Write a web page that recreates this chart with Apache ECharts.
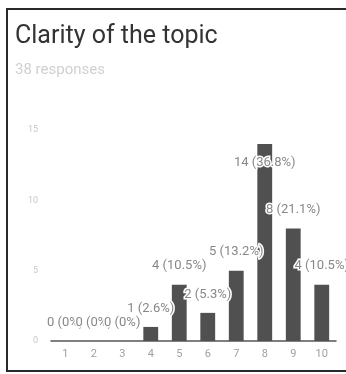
<!DOCTYPE html>
<html>
<head>
<meta charset="utf-8">
<script src="https://cdn.jsdelivr.net/npm/echarts@6/dist/echarts.min.js"></script>
<style>
  html, body { margin: 0; padding: 0; background: #fff; overflow: hidden; }
  #wrap { position: relative; width: 346px; height: 374px; overflow: hidden; }
  #chart { position: absolute; left: 0; top: 0; width: 346px; height: 374px; }
  #frame { position: absolute; left: 6px; top: 8px; width: 345px; height: 360px;
           border-left: 2px solid #2a2a2a; border-top: 2px solid #2a2a2a; border-bottom: 2px solid #2a2a2a;
           border-right: none; box-sizing: content-box; pointer-events: none; }
</style>
</head>
<body>
<div id="wrap">
  <div id="chart"></div>
  <div id="frame"></div>
</div>
<script>
const titleText = "Clarity of the topic";
const subtitleText = "38 responses";
const categories = ["1", "2", "3", "4", "5", "6", "7", "8", "9", "10"];
const counts = [0, 0, 0, 1, 4, 2, 5, 14, 8, 4];
const percents = ["0%", "0%", "0%", "2.6%", "10.5%", "5.3%", "13.2%", "36.8%", "21.1%", "10.5%"];
const yTicks = [0, 5, 10, 15];

const chart = echarts.init(document.getElementById('chart'), null, { renderer: 'canvas' });
const maxY = yTicks[yTicks.length - 1];

const seriesData = counts.map((v, i) => {
  const item = { value: v, pct: percents[i] };
  if (v >= maxY - 1) {
    item.label = { position: 'insideTop', distance: 12 };
  }
  return item;
});

chart.setOption({
  backgroundColor: '#fff',
  animation: false,
  textStyle: { fontFamily: 'Roboto, sans-serif' },
  title: {
    text: titleText,
    subtext: subtitleText,
    left: 10,
    top: 19,
    itemGap: 14,
    textStyle: { fontSize: 25, fontWeight: 'normal', color: '#333', fontFamily: 'Roboto' },
    subtextStyle: { fontSize: 15, color: '#d0d0d0', fontFamily: 'Roboto' }
  },
  grid: { left: 51, right: 10, top: 130, bottom: 33, containLabel: false },
  xAxis: {
    type: 'category',
    data: categories,
    axisLine: { show: true, lineStyle: { color: '#555', width: 1.5 } },
    axisTick: { show: false },
    axisLabel: { color: '#a0a0a0', fontSize: 11, margin: 8 }
  },
  yAxis: {
    type: 'value',
    min: 0,
    max: maxY,
    interval: 5,
    axisLine: { show: false },
    axisTick: { show: false },
    splitLine: { show: false },
    axisLabel: { color: '#c8c8c8', fontSize: 9, margin: 13 }
  },
  series: [{
    type: 'bar',
    data: seriesData,
    barWidth: '52%',
    itemStyle: { color: '#505050' },
    label: {
      show: true,
      position: 'top',
      distance: 12,
      color: '#888',
      fontSize: 13,
      textBorderColor: '#fff',
      textBorderWidth: 3,
      formatter: p => p.value + ' (' + p.data.pct + ')'
    }
  }]
});
</script>
</body>
</html>
